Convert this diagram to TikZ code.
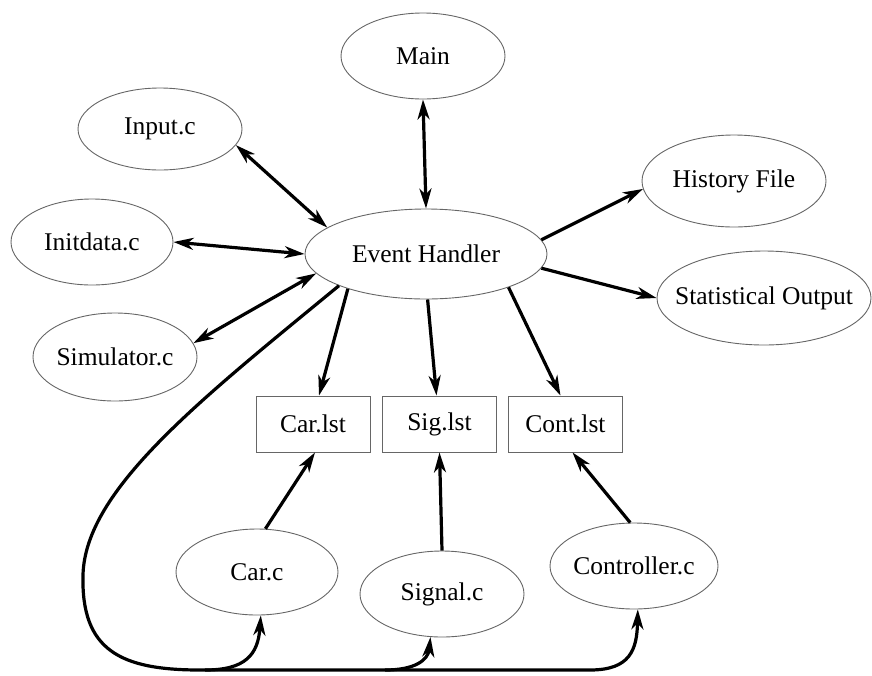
\documentclass[tikz,border=0pt]{standalone}
\usepackage{fontspec}
\setmainfont{Liberation Serif}
\usetikzlibrary{shapes.geometric,arrows.meta}
\begin{document}
\begin{tikzpicture}[x=1pt,y=-1pt,
  ell/.style={ellipse,draw=black!60,line width=0.9pt,inner sep=0pt},
  lst/.style={rectangle,draw=black!60,line width=0.9pt,minimum width=114pt,minimum height=56pt,inner sep=0pt},
  tip/.tip={Stealth[length=20pt,width=12pt,inset=6pt]},
  arr/.style={line width=3.2pt,-tip},
  darr/.style={line width=3.2pt,tip-tip},
  every node/.style={font=\fontsize{25.5}{30}\selectfont}]
\useasboundingbox (0,0) rectangle (872,675);
% ellipses
\node[ell,minimum width=164pt,minimum height=86pt] (main) at (423,56) {\makebox[0pt]{Main}};
\node[ell,minimum width=242pt,minimum height=90pt] (eh) at (426,254) {\makebox[0pt]{Event Handler}};
\node[ell,minimum width=164pt,minimum height=82pt] (inp) at (160,129) {\makebox[0pt]{Input.c}};
\node[ell,minimum width=162pt,minimum height=86pt] (init) at (92,242) {\makebox[0pt]{Initdata.c}};
\node[ell,minimum width=164pt,minimum height=88pt] (sim) at (115,357) {\makebox[0pt]{Simulator.c}};
\node[ell,minimum width=184pt,minimum height=92pt] (hist) at (734,181) {\makebox[0pt]{History File}};
\node[ell,minimum width=214pt,minimum height=94pt] (stat) at (764,298) {\makebox[0pt]{Statistical Output}};
\node[ell,minimum width=162pt,minimum height=86pt] (carc) at (257,572) {\makebox[0pt]{Car.c}};
\node[ell,minimum width=164pt,minimum height=86pt] (sigc) at (442,594) {\makebox[0pt]{Signal.c}};
\node[ell,minimum width=168pt,minimum height=86pt] (ctrl) at (634,566) {\makebox[0pt]{Controller.c}};
% boxes
\node[lst] (carl) at (313,424) {Car.lst};
\node[lst] (sigl) at (439.5,424) {Sig.lst};
\node[lst] (contl) at (565.5,424) {Cont.lst};
% connectors
\draw[darr] (main.south) -- (eh.north);
\draw[darr] (inp.-12) -- (eh.165);
\draw[darr] (init.east) -- (eh.west);
\draw[darr] (sim.10) -- (eh.190);
\draw[arr] (eh.7) -- (hist.185);
\draw[arr] (eh.-7) -- (stat.west);
\draw[arr] (eh.-156) -- ([xshift=6pt]carl.north);
\draw[arr] (eh.-88) -- ([xshift=-3pt]sigl.north);
\draw[arr] (eh.-22) -- ([xshift=-5pt]contl.north);
\draw[arr] (carc.79) -- ([xshift=2pt]carl.south);
\draw[arr] (sigc.north) -- (sigl.south);
\draw[arr] (ctrl.95) -- ([xshift=7pt]contl.south);
% feedback loop
\coordinate (b1) at (205,670);
\coordinate (b2) at (385,670);
\draw[arr] (eh.200) .. controls (200,400) and (85,490) .. (83,575)
  .. controls (81,650) and (120,670) .. (200,670) -- (590,670)
  .. controls (630,670) and (637,650) .. (ctrl.-85);
\draw[arr] (b1) .. controls (245,670) and (258,655) .. (carc.-85);
\draw[arr] (b2) .. controls (415,670) and (428,660) .. (sigc.-105);
\end{tikzpicture}
\end{document}
